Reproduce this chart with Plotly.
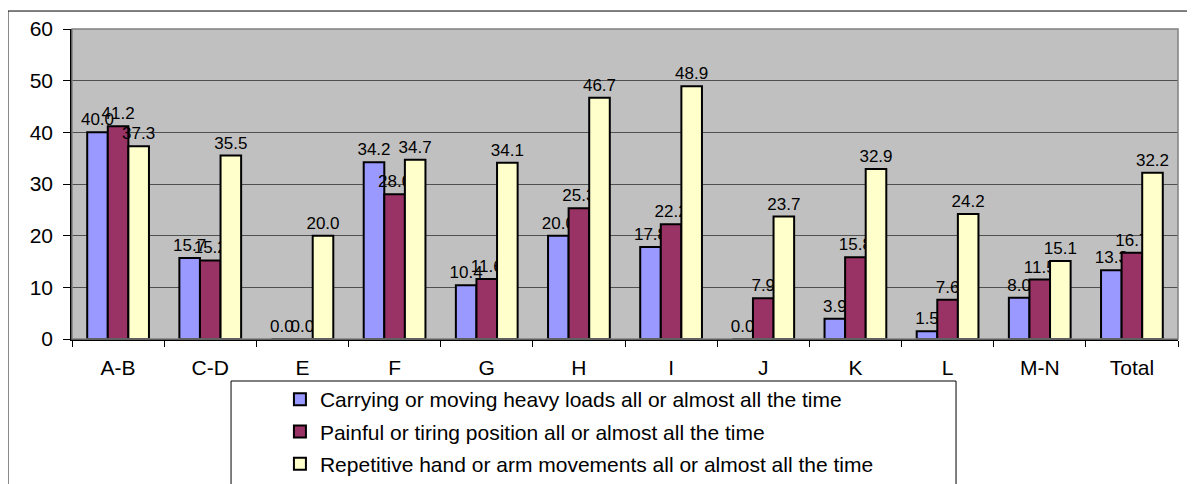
import plotly.graph_objects as go

categorias = ['A-B', 'C-D', 'E', 'F', 'G', 'H', 'I', 'J', 'K', 'L', 'M-N', 'Total']

cargas = [40.0, 15.7, 0.0, 34.2, 10.4, 20.0, 17.8, 0.0, 3.9, 1.5, 8.0, 13.3]
posicao = [41.2, 15.2, 0.0, 28.0, 11.6, 25.3, 22.2, 7.9, 15.8, 7.6, 11.5, 16.7]
repetitivos = [37.3, 35.5, 20.0, 34.7, 34.1, 46.7, 48.9, 23.7, 32.9, 24.2, 15.1, 32.2]

nomes = ['Carrying or moving heavy loads all or almost all the time',
         'Painful or tiring position all or almost all the time',
         'Repetitive hand or arm movements all or almost all the time']

cores = ['#9999FF', '#993366', '#FFFFCC']

fonte = 'Arial, Liberation Sans, sans-serif'


def barra(valores, nome, cor, grupo):
    return go.Bar(name=nome,
                  x=categorias,
                  y=valores,
                  marker_color=cor,
                  marker_line=dict(color='black', width=2),
                  text=['%.1f' % v for v in valores],
                  textposition='outside',
                  constraintext='none',
                  cliponaxis=False,
                  textfont=dict(family=fonte, size=17, color='black'),
                  legendgroup=grupo)


f = go.Figure(data=[
    barra(cargas, nomes[0], cores[0], 'g1'),
    barra(posicao, nomes[1], cores[1], 'g2'),
    barra(repetitivos, nomes[2], cores[2], 'g3'),
])

# a pagina tem 8px de margem no body, por isso as margens descontam esse deslocamento
f.update_layout(
    width=1195, height=484,
    margin=dict(l=64, r=25, t=21, b=153, autoexpand=False),
    paper_bgcolor='white',
    plot_bgcolor='#C0C0C0',
    barmode='group',
    bargap=0.33,
    bargroupgap=0,
    font=dict(family=fonte, size=21, color='black'),
    showlegend=True,
    legend=dict(x=0.188, y=-0.129, xanchor='left', yanchor='top',
                bgcolor='rgba(0,0,0,0)', borderwidth=0,
                tracegroupgap=2, traceorder='grouped',
                font=dict(family=fonte, size=21, color='black')),
    shapes=[
        # moldura externa
        dict(type='rect', xref='paper', yref='paper',
             x0=-0.0579, x1=1.06, y0=-0.6, y1=1.058,
             line=dict(color='black', width=1), layer='below'),
        # caixa da legenda
        dict(type='rect', xref='paper', yref='paper',
             x0=0.1438, x1=0.7993, y0=-0.6, y1=-0.1355,
             line=dict(color='black', width=1), fillcolor='white', layer='below'),
        # borda da area do grafico
        dict(type='rect', xref='paper', yref='paper',
             x0=0, x1=1, y0=0, y1=1,
             line=dict(color='#808080', width=1.5), layer='above'),
    ],
)

f.update_xaxes(showline=True, linecolor='black', linewidth=1.5,
               ticks='outside', tickson='boundaries', ticklen=6, tickcolor='black',
               ticklabelstandoff=9, showgrid=False)

f.update_yaxes(range=[0, 60], dtick=10, showline=True, linecolor='black', linewidth=1.5,
               ticks='outside', ticklen=7, tickcolor='black', ticklabelstandoff=6,
               showgrid=True, gridcolor='#505050', gridwidth=1, zeroline=False)

f.write_html('out.html')
